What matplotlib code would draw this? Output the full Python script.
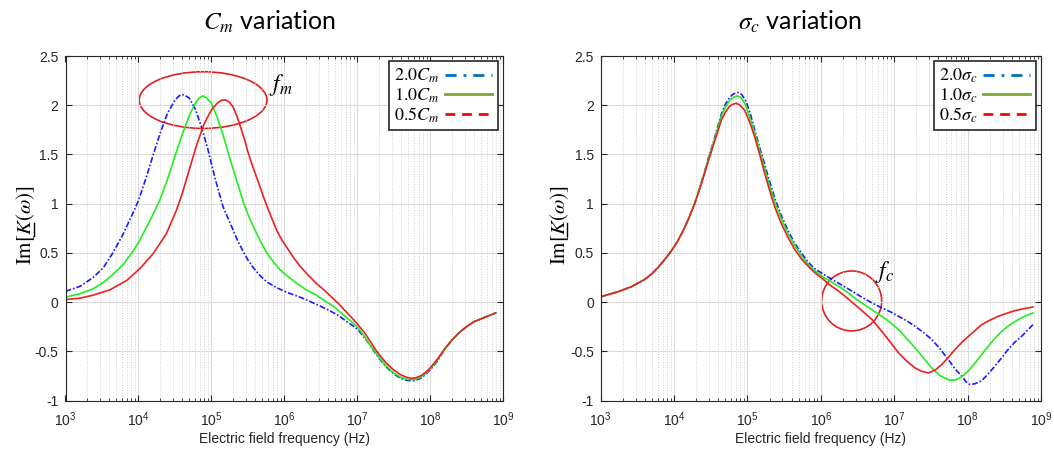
import matplotlib
matplotlib.use("Agg")
import matplotlib.pyplot as plt
from matplotlib.patches import Ellipse
from matplotlib.lines import Line2D
from matplotlib.ticker import FixedLocator, NullFormatter

plt.rcParams['font.family'] = ['Liberation Sans', 'DejaVu Sans']
plt.rcParams['mathtext.fontset'] = 'stix'

# ---- left panel: C_m variation (x given as log10 of frequency) ----
cm2_lf = [3.0, 3.2, 3.38, 3.52, 3.65, 3.79, 3.91, 4.0, 4.1, 4.2, 4.3, 4.4, 4.5, 4.55, 4.59, 4.64, 4.7, 4.78, 4.86,
          4.95, 5.05, 5.16, 5.23, 5.3, 5.37, 5.44, 5.5, 5.57, 5.66, 5.76, 5.9, 6.03, 6.17, 6.3, 6.4, 6.52, 6.63, 6.75,
          6.86, 6.94, 7.01, 7.1, 7.18, 7.25, 7.32, 7.4, 7.5, 7.6, 7.68, 7.74, 7.8, 7.87, 7.93, 8.0, 8.1, 8.2, 8.3, 8.4,
          8.5, 8.6, 8.75, 8.9]
cm2_v = [0.11, 0.16, 0.25, 0.35, 0.50, 0.69, 0.88, 1.03, 1.25, 1.49, 1.72, 1.92, 2.05, 2.09, 2.11, 2.10, 2.07, 1.96,
         1.79, 1.56, 1.26, 0.97, 0.85, 0.73, 0.61, 0.51, 0.43, 0.355, 0.275, 0.205, 0.145, 0.10, 0.063, 0.025, -0.01,
         -0.05, -0.09, -0.14, -0.20, -0.24, -0.28, -0.36, -0.44, -0.52, -0.59, -0.66, -0.73, -0.775, -0.795, -0.80,
         -0.795, -0.775, -0.74, -0.69, -0.60, -0.48, -0.385, -0.31, -0.25, -0.20, -0.155, -0.11]

cm1_lf = [3.0, 3.2, 3.38, 3.52, 3.65, 3.79, 3.93, 4.02, 4.16, 4.29, 4.4, 4.5, 4.6, 4.7, 4.78, 4.83, 4.88, 4.93, 5.0,
          5.08, 5.16, 5.25, 5.345, 5.46, 5.53, 5.6, 5.68, 5.76, 5.85, 5.94, 6.05, 6.17, 6.3, 6.44, 6.55, 6.67, 6.78,
          6.86, 6.94, 7.01, 7.1, 7.18, 7.25, 7.32, 7.4, 7.5, 7.6, 7.68, 7.74, 7.8, 7.87, 7.93, 8.0, 8.1, 8.2, 8.3, 8.4,
          8.5, 8.6, 8.75, 8.9]
cm1_v = [0.05, 0.085, 0.135, 0.20, 0.28, 0.38, 0.52, 0.63, 0.83, 1.03, 1.25, 1.48, 1.70, 1.90, 2.02, 2.07, 2.095, 2.08,
         2.02, 1.88, 1.70, 1.47, 1.24, 0.97, 0.84, 0.73, 0.61, 0.50, 0.41, 0.33, 0.26, 0.19, 0.125, 0.07, 0.015, -0.04,
         -0.11, -0.16, -0.21, -0.26, -0.35, -0.44, -0.51, -0.58, -0.65, -0.72, -0.765, -0.785, -0.79, -0.785, -0.765,
         -0.73, -0.68, -0.59, -0.48, -0.385, -0.31, -0.25, -0.20, -0.155, -0.11]

cm05_lf = [3.0, 3.2, 3.38, 3.61, 3.84, 4.02, 4.2, 4.38, 4.52, 4.6, 4.7, 4.8, 4.9, 5.0, 5.08, 5.14, 5.19, 5.25, 5.3,
           5.35, 5.4, 5.46, 5.5, 5.57, 5.64, 5.7, 5.76, 5.83, 5.89, 5.96, 6.03, 6.12, 6.21, 6.32, 6.44, 6.55, 6.65,
           6.75, 6.85, 6.94, 7.01, 7.1, 7.18, 7.25, 7.32, 7.4, 7.5, 7.6, 7.68, 7.74, 7.8, 7.87, 7.93, 8.0, 8.1, 8.2,
           8.3, 8.4, 8.5, 8.6, 8.75, 8.9]
cm05_v = [0.025, 0.04, 0.07, 0.125, 0.22, 0.34, 0.49, 0.69, 0.93, 1.10, 1.35, 1.60, 1.81, 1.95, 2.02, 2.05, 2.055,
          2.03, 1.98, 1.89, 1.78, 1.64, 1.53, 1.37, 1.23, 1.10, 0.98, 0.85, 0.74, 0.64, 0.56, 0.46, 0.37, 0.28, 0.19,
          0.12, 0.05, -0.02, -0.10, -0.17, -0.23, -0.31, -0.40, -0.48, -0.55, -0.62, -0.69, -0.74, -0.765, -0.775,
          -0.77, -0.75, -0.72, -0.67, -0.58, -0.475, -0.385, -0.31, -0.25, -0.20, -0.155, -0.11]

# ---- right panel: sigma_c variation ----
sc2_lf = [3.0, 3.236, 3.418, 3.6, 3.7, 3.78, 3.87, 3.963, 4.05, 4.12, 4.2, 4.28, 4.35, 4.417, 4.47, 4.53, 4.59, 4.644,
          4.70, 4.757, 4.81, 4.87, 4.92, 4.98, 5.04, 5.098, 5.17, 5.234, 5.30, 5.37, 5.46, 5.55, 5.64, 5.734, 5.82,
          5.915, 6.019, 6.13, 6.245, 6.36, 6.47, 6.58, 6.70, 6.833, 6.95, 7.059, 7.17, 7.285, 7.40, 7.511, 7.63, 7.738,
          7.83, 7.919, 7.98, 8.032, 8.10, 8.19, 8.28, 8.37, 8.46, 8.55, 8.64, 8.733, 8.81, 8.89]
sc2_v = [0.054, 0.105, 0.156, 0.23, 0.29, 0.35, 0.43, 0.52, 0.62, 0.72, 0.85, 1.0, 1.16, 1.33, 1.47, 1.61, 1.77, 1.91,
         2.01, 2.08, 2.115, 2.13, 2.11, 2.04, 1.91, 1.75, 1.56, 1.40, 1.23, 1.06, 0.88, 0.73, 0.60, 0.50, 0.41, 0.34,
         0.29, 0.24, 0.19, 0.14, 0.09, 0.04, -0.01, -0.06, -0.10, -0.145, -0.19, -0.247, -0.31, -0.38, -0.48, -0.585,
         -0.68, -0.753, -0.81, -0.838, -0.83, -0.80, -0.73, -0.652, -0.57, -0.483, -0.41, -0.35, -0.29, -0.23]

sc1_lf = [3.0, 3.236, 3.418, 3.6, 3.7, 3.78, 3.87, 3.963, 4.05, 4.12, 4.2, 4.28, 4.35, 4.417, 4.47, 4.53, 4.59, 4.644,
          4.70, 4.757, 4.81, 4.86, 4.91, 4.97, 5.03, 5.098, 5.17, 5.234, 5.30, 5.37, 5.46, 5.55, 5.64, 5.734, 5.82,
          5.915, 6.019, 6.13, 6.245, 6.36, 6.47, 6.58, 6.70, 6.833, 6.95, 7.059, 7.17, 7.285, 7.40, 7.511, 7.63, 7.76,
          7.84, 7.919, 8.01, 8.10, 8.19, 8.28, 8.37, 8.46, 8.55, 8.64, 8.76, 8.89]
sc1_v = [0.054, 0.105, 0.156, 0.23, 0.29, 0.35, 0.43, 0.52, 0.62, 0.72, 0.85, 1.0, 1.16, 1.32, 1.46, 1.60, 1.75, 1.89,
         1.98, 2.05, 2.08, 2.095, 2.08, 2.01, 1.88, 1.72, 1.53, 1.36, 1.19, 1.02, 0.85, 0.70, 0.58, 0.47, 0.39, 0.32,
         0.26, 0.21, 0.16, 0.10, 0.035, -0.02, -0.08, -0.145, -0.21, -0.28, -0.37, -0.466, -0.57, -0.67, -0.75,
         -0.794, -0.79, -0.76, -0.70, -0.62, -0.535, -0.45, -0.37, -0.30, -0.245, -0.20, -0.15, -0.11]

sc05_lf = [3.0, 3.236, 3.418, 3.6, 3.7, 3.78, 3.87, 3.963, 4.05, 4.12, 4.2, 4.28, 4.35, 4.417, 4.47, 4.53, 4.59, 4.644,
           4.70, 4.757, 4.80, 4.848, 4.90, 4.962, 5.03, 5.098, 5.17, 5.234, 5.30, 5.37, 5.46, 5.55, 5.64, 5.734, 5.82,
           5.915, 6.019, 6.13, 6.245, 6.36, 6.47, 6.58, 6.70, 6.833, 6.95, 7.059, 7.17, 7.285, 7.38, 7.466, 7.56,
           7.647, 7.74, 7.828, 7.92, 8.009, 8.10, 8.19, 8.30, 8.416, 8.53, 8.64, 8.76, 8.89]
sc05_v = [0.054, 0.105, 0.156, 0.23, 0.29, 0.35, 0.43, 0.52, 0.62, 0.72, 0.85, 1.0, 1.15, 1.31, 1.44, 1.58, 1.72, 1.85,
          1.93, 1.99, 2.01, 2.02, 2.00, 1.95, 1.83, 1.68, 1.49, 1.31, 1.14, 0.97, 0.80, 0.66, 0.54, 0.44, 0.37, 0.30,
          0.24, 0.17, 0.11, 0.04, -0.03, -0.10, -0.18, -0.30, -0.41, -0.517, -0.60, -0.67, -0.705, -0.72, -0.69,
          -0.635, -0.56, -0.483, -0.41, -0.35, -0.29, -0.23, -0.185, -0.145, -0.115, -0.088, -0.068, -0.05]

yticks = [-1, -0.5, 0, 0.5, 1, 1.5, 2, 2.5]
ytick_labels = ['-1', '-0.5', '0', '0.5', '1', '1.5', '2', '2.5']
xticks = [1e3, 1e4, 1e5, 1e6, 1e7, 1e8, 1e9]
xtick_labels = [r'$\mathdefault{10^{%d}}$' % e for e in range(3, 10)]
xminor = [k * 10 ** e for e in range(3, 9) for k in range(2, 10)]

fig = plt.figure(figsize=(10.54, 4.5), dpi=100)
W, H = 1054.0, 450.0
axL = fig.add_axes([65.5 / W, 1 - 400.5 / H, 437.5 / W, 344.5 / H])
axR = fig.add_axes([600.7 / W, 1 - 400.5 / H, 440.3 / W, 344.5 / H])

blue_ls = (0, (3.5, 1.2, 1.0, 1.2))


def style(ax):
    ax.set_xscale('log')
    ax.set_xlim(1e3, 1e9)
    ax.set_ylim(-1, 2.5)
    ax.set_yticks(yticks)
    ax.set_yticklabels(ytick_labels)
    ax.xaxis.set_major_locator(FixedLocator(xticks))
    ax.set_xticklabels(xtick_labels)
    ax.xaxis.set_minor_locator(FixedLocator(xminor))
    ax.xaxis.set_minor_formatter(NullFormatter())
    ax.grid(True, which='major', color='#dcdcdc', linewidth=0.8)
    ax.grid(True, which='minor', axis='x', color='#d0d0d0', linestyle=':', linewidth=0.7)
    ax.tick_params(which='both', direction='in', top=True, right=True, colors='#262626', labelsize=10)
    ax.tick_params(axis='x', which='major', length=4, pad=7)
    ax.tick_params(axis='y', which='major', length=4, pad=5)
    ax.tick_params(which='minor', length=2)
    for s in ax.spines.values():
        s.set_color('#262626')
        s.set_linewidth(0.8)
    ax.set_xlabel('Electric field frequency (Hz)', fontsize=10, color='#262626', labelpad=2)


def freq(lf):
    return [10 ** v for v in lf]


axL.plot(freq(cm2_lf), cm2_v, color='#1a1aff', linestyle=blue_ls, linewidth=1.2)
axL.plot(freq(cm1_lf), cm1_v, color='#22ee22', linewidth=1.2)
axL.plot(freq(cm05_lf), cm05_v, color='#ee2020', linewidth=1.2)
axR.plot(freq(sc2_lf), sc2_v, color='#1a1aff', linestyle=blue_ls, linewidth=1.2)
axR.plot(freq(sc1_lf), sc1_v, color='#22ee22', linewidth=1.2)
axR.plot(freq(sc05_lf), sc05_v, color='#ee2020', linewidth=1.2)

for ax, sym in [(axL, 'C_m'), (axR, r'\sigma_c')]:
    style(ax)
    handles = [Line2D([], [], color='#0072BD', linestyle=(0, (4, 2.5, 1, 2.5)), linewidth=2),
               Line2D([], [], color='#77AC30', linewidth=2),
               Line2D([], [], color='#ff0000', linestyle=(0, (3.5, 2.5)), linewidth=2)]
    labels = [r'$2.0%s$' % sym, r'$1.0%s$' % sym, r'$0.5%s$' % sym]
    leg = ax.legend(handles, labels, loc='upper right', fontsize=13, handlelength=2.6, handletextpad=0.3,
                    labelspacing=0.05, borderpad=0.3, borderaxespad=0.3, fancybox=False, framealpha=1,
                    markerfirst=False)
    leg.get_frame().set_edgecolor('#262626')
    leg.get_frame().set_linewidth(1.2)

# annotations
axL.add_patch(Ellipse((0.3145, 0.872), 0.292, 0.1646, transform=axL.transAxes, fill=False,
                      edgecolor='#e02020', linewidth=1.2))
axL.text(0.465, 0.916, r'$f_m$', transform=axL.transAxes, fontsize=17, va='center', ha='left')
axR.add_patch(Ellipse((0.570, 0.289), 0.1363, 0.174, transform=axR.transAxes, fill=False,
                      edgecolor='#e02020', linewidth=1.2))
axR.text(0.623, 0.374, r'$f_c$', transform=axR.transAxes, fontsize=17, va='center', ha='left')

# y labels, with the underline under K drawn by hand
renderer = fig.canvas.get_renderer()
for xc in [26 / W, 559.5 / W]:
    t = fig.text(xc, 1 - 225 / H, r'$\mathrm{Im}\left[K(\omega)\right]$', rotation=90, fontsize=15,
                 ha='center', va='center')
    bb = t.get_window_extent(renderer)
    ux = bb.x1 - 3.5
    uy0 = bb.y0 + 0.36 * bb.height
    uy1 = bb.y0 + 0.53 * bb.height
    fig.add_artist(Line2D([ux / W, ux / W], [uy0 / H, uy1 / H], transform=fig.transFigure,
                          color='black', linewidth=1.0))

# titles
fig.text(270 / W, 1 - 22 / H, r'$C_m$ variation', fontsize=18, ha='center', va='center',
         family=['Lato', 'DejaVu Sans'])
fig.text(800 / W, 1 - 22 / H, r'$\sigma_c$ variation', fontsize=18, ha='center', va='center',
         family=['Lato', 'DejaVu Sans'])

fig.savefig('out.png', dpi=100)
